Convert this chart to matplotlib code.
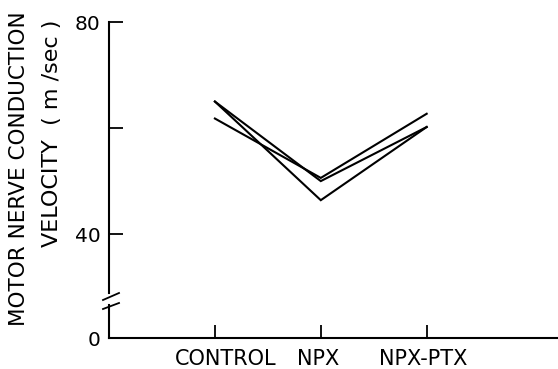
"""Motor nerve conduction velocity: control vs NPX vs NPX-PTX (broken y axis)."""
import matplotlib
matplotlib.use("Agg")
import matplotlib.pyplot as plt
from matplotlib.lines import Line2D
from matplotlib.transforms import ScaledTranslation

conditions = ["CONTROL", "NPX", "NPX-PTX"]
animal_a = [65.0, 46.4, 60.2]
animal_b = [65.0, 50.0, 60.2]
animal_c = [61.8, 50.6, 62.7]

W, H = 558, 369
fig = plt.figure(figsize=(W / 100, H / 100), dpi=100)

# pixel layout -> figure fractions
x0, x1 = 109, 558
ax_top = fig.add_axes([x0 / W, 1 - 293 / H, (x1 - x0) / W, (293 - 22) / H])
ax_bot = fig.add_axes([x0 / W, 1 - 338 / H, (x1 - x0) / W, (338 - 305) / H])

xs = [1, 2, 3]
for ys in (animal_a, animal_b, animal_c):
    ax_top.plot(xs, ys, color="black", lw=1.5, solid_joinstyle="miter")

ax_top.set_ylim(28.9, 80)
ax_top.set_yticks([40, 60, 80], labels=["40", "", "80"])
ax_bot.set_ylim(0, 6)
ax_bot.set_yticks([0], labels=["0"])
ax_bot.set_xticks(xs, labels=conditions)

for ax in (ax_top, ax_bot):
    ax.set_xlim(0, 4.24)
    ax.spines["top"].set_visible(False)
    ax.spines["right"].set_visible(False)
    ax.spines["left"].set_linewidth(1.5)
    ax.spines["bottom"].set_linewidth(1.5)
    ax.tick_params(direction="in", width=1.3, length=10, labelsize=14.5, pad=6)
    ax.patch.set_visible(False)

ax_top.spines["bottom"].set_visible(False)
ax_top.tick_params(axis="x", bottom=False, labelbottom=False)
ax_bot.tick_params(axis="y", length=0)
ax_bot.tick_params(axis="x", labelsize=15, length=9.5, pad=8)

# labels sit a little off their ticks in the original
for lab, dx in zip(ax_bot.get_xticklabels(), (11, -3, -4)):
    lab.set_transform(lab.get_transform() + ScaledTranslation(dx / 100, 0, fig.dpi_scale_trans))

# axis break slashes
for (ya, yb) in ((300, 293), (309, 303)):
    fig.add_artist(Line2D([103 / W, 119 / W], [1 - ya / H, 1 - yb / H],
                          transform=fig.transFigure, color="black", lw=1.3))

fig.text(19 / W, 1 - 169 / H, "MOTOR NERVE CONDUCTION", rotation=90,
         ha="center", va="center", fontsize=15.5)
fig.text(52 / W, 1 - 133 / H, "VELOCITY  ( m /sec )", rotation=90,
         ha="center", va="center", fontsize=16)

fig.savefig("out.png", dpi=100)
